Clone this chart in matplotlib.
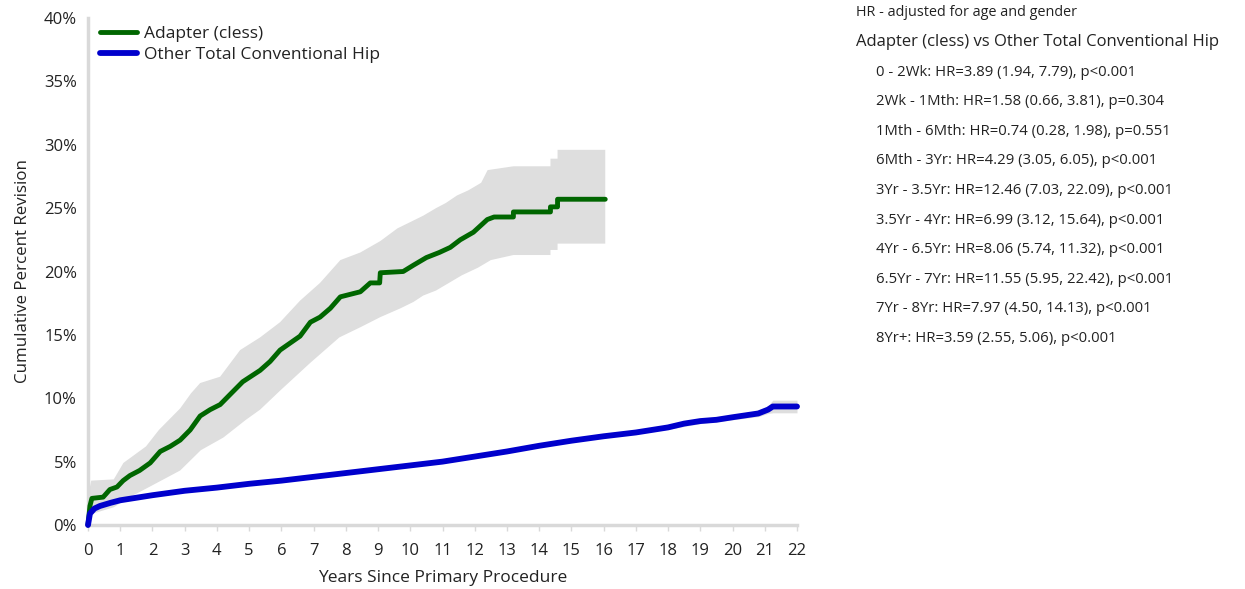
import matplotlib
matplotlib.use('Agg')
import matplotlib.pyplot as plt
import numpy as np

plt.rcParams['font.family'] = ['Open Sans', 'DejaVu Sans']

# Adapter (cless) cumulative percent revision
green_t   = [0, 0.06, 0.12, 0.47, 0.68, 0.9, 1.09, 1.3, 1.6, 1.93, 2.24, 2.55, 2.86, 3.17, 3.48, 3.79,
             4.1, 4.41, 4.8, 5.34, 5.65, 5.96, 6.58, 6.9, 7.2, 7.52, 7.83, 8.45, 8.76, 9.05, 9.07, 9.78,
             10.1, 10.5, 10.9, 11.24, 11.55, 11.96, 12.39, 12.6, 13.2, 13.2, 14.35, 14.35, 14.57, 14.57, 16.05]
green_pct = [0, 1.5, 2.1, 2.2, 2.8, 3.0, 3.5, 3.9, 4.3, 4.9, 5.8, 6.2, 6.7, 7.5, 8.6, 9.1,
             9.5, 10.3, 11.3, 12.2, 12.9, 13.8, 14.9, 16.0, 16.4, 17.1, 18.0, 18.4, 19.1, 19.1, 19.9, 20.0,
             20.5, 21.1, 21.5, 21.9, 22.5, 23.1, 24.1, 24.3, 24.3, 24.7, 24.7, 25.1, 25.1, 25.7, 25.7]

# 95% CI band for Adapter
green_up_t = [0, 0.06, 0.1, 0.8, 1.1, 1.8, 2.2, 2.86, 3.2, 3.48, 4.1, 4.72, 5.34, 5.96, 6.58, 7.2, 7.83,
              8.45, 9.07, 9.6, 10.0, 10.4, 10.8, 11.1, 11.45, 11.8, 12.2, 12.4, 13.2, 14.35, 14.35, 14.57,
              14.57, 16.05]
green_up   = [0, 3.0, 3.5, 3.6, 4.9, 6.2, 7.5, 9.2, 10.4, 11.2, 11.7, 13.8, 14.8, 16.0, 17.7, 19.1, 20.9,
              21.5, 22.4, 23.4, 23.9, 24.4, 25.0, 25.4, 26.0, 26.4, 27.0, 28.0, 28.3, 28.3, 28.9, 28.9,
              29.6, 29.6]
green_lo_t = [0, 0.15, 0.8, 1.3, 1.9, 2.86, 3.5, 4.2, 4.9, 5.34, 5.96, 6.9, 7.8, 8.45, 9.07, 9.7, 10.1,
              10.4, 10.8, 11.2, 11.6, 12.1, 12.5, 13.2, 14.35, 14.35, 14.57, 14.57, 16.05]
green_lo   = [0, 0.9, 1.4, 2.2, 3.0, 4.3, 5.9, 6.9, 8.3, 9.1, 10.6, 12.8, 14.8, 15.6, 16.4, 17.1, 17.6,
              18.1, 18.5, 19.1, 19.7, 20.3, 20.9, 21.3, 21.3, 21.7, 21.7, 22.2, 22.2]

# Other Total Conventional Hip
blue_t   = [0, 0.06, 0.2, 0.37, 0.7, 1, 2, 3, 4, 5, 6, 7, 8, 9, 10, 11, 12, 13, 14, 15, 16, 17, 18,
            18.5, 19, 19.5, 20, 20.8, 21.1, 21.25, 22]
blue_pct = [0, 0.9, 1.3, 1.5, 1.75, 1.95, 2.35, 2.7, 2.95, 3.25, 3.5, 3.8, 4.1, 4.4, 4.7, 5.0, 5.4,
            5.8, 6.25, 6.65, 7.0, 7.3, 7.7, 8.0, 8.2, 8.3, 8.5, 8.8, 9.1, 9.35, 9.35]
blue_ci_t  = [15, 18, 19, 20, 20.8, 21.1, 21.25, 22]
blue_ci_lo = [6.55, 7.55, 8.0, 8.3, 8.55, 8.8, 8.85, 8.85]
blue_ci_hi = [6.75, 7.85, 8.4, 8.7, 9.05, 9.4, 9.85, 9.85]

series_names = ['Adapter (cless)', 'Other Total Conventional Hip']
x_ticks = list(range(0, 23))
y_ticks = list(range(0, 41, 5))

hr_note  = 'HR - adjusted for age and gender'
hr_title = 'Adapter (cless) vs Other Total Conventional Hip'
hr_lines = [
    '0 - 2Wk: HR=3.89 (1.94, 7.79), p<0.001',
    '2Wk - 1Mth: HR=1.58 (0.66, 3.81), p=0.304',
    '1Mth - 6Mth: HR=0.74 (0.28, 1.98), p=0.551',
    '6Mth - 3Yr: HR=4.29 (3.05, 6.05), p<0.001',
    '3Yr - 3.5Yr: HR=12.46 (7.03, 22.09), p<0.001',
    '3.5Yr - 4Yr: HR=6.99 (3.12, 15.64), p<0.001',
    '4Yr - 6.5Yr: HR=8.06 (5.74, 11.32), p<0.001',
    '6.5Yr - 7Yr: HR=11.55 (5.95, 22.42), p<0.001',
    '7Yr - 8Yr: HR=7.97 (4.50, 14.13), p<0.001',
    '8Yr+: HR=3.59 (2.55, 5.06), p<0.001',
]

GREEN = '#006600'
BLUE = '#0000CC'
BAND = '#DEDEDE'
AXIS = '#D9D9D9'
TEXT = '#222222'
W, H = 1245, 589


def main():
    fig = plt.figure(figsize=(W / 100, H / 100), dpi=100)
    ax = fig.add_axes([88 / W, 1 - 525 / H, (797 - 88) / W, (525 - 18) / H])

    # CI bands
    ax.fill(np.r_[green_up_t, green_lo_t[::-1]], np.r_[green_up, green_lo[::-1]],
            color=BAND, lw=0, zorder=1)
    ax.fill_between(blue_ci_t, blue_ci_lo, blue_ci_hi, color=BAND, lw=0, zorder=1)

    ax.plot(green_t, green_pct, color=GREEN, lw=3.5, label=series_names[0],
            solid_capstyle='round', zorder=3, clip_on=False)
    ax.plot(blue_t, blue_pct, color=BLUE, lw=4.2, label=series_names[1],
            solid_capstyle='round', zorder=4, clip_on=False)

    ax.set_xlim(0, 22)
    ax.set_ylim(0, 40)
    ax.set_xticks(x_ticks)
    ax.set_yticks(y_ticks)
    ax.set_yticklabels([f'{v}%' for v in y_ticks])

    for side in ('top', 'right'):
        ax.spines[side].set_visible(False)
    for side in ('left', 'bottom'):
        ax.spines[side].set_color(AXIS)
        ax.spines[side].set_linewidth(2.5)
    ax.tick_params(axis='x', colors=AXIS, length=4, width=1, pad=9, labelsize=12, labelcolor=TEXT)
    ax.tick_params(axis='y', length=0, pad=8, labelsize=12, labelcolor=TEXT)

    ax.set_xlabel('Years Since Primary Procedure', fontsize=12.5, color=TEXT, labelpad=8)
    ax.set_ylabel('Cumulative Percent Revision', fontsize=12.2, color=TEXT, labelpad=9)

    leg = ax.legend(loc='upper left', bbox_to_anchor=(0.0, 1.008), frameon=False, fontsize=12.5,
                    handlelength=2.1, handletextpad=0.45, labelspacing=0.25, borderaxespad=0.3)
    for txt in leg.get_texts():
        txt.set_color(TEXT)

    # HR text block on the right
    fig.text(856 / W, 1 - 12 / H, hr_note, fontsize=10.4, color=TEXT, va='center', ha='left')
    fig.text(856 / W, 1 - 42 / H, hr_title, fontsize=12, color=TEXT, va='center', ha='left')
    for i, line in enumerate(hr_lines):
        fig.text(876 / W, 1 - (72 + i * 29.6) / H, line, fontsize=10.7, color=TEXT,
                 va='center', ha='left')

    fig.savefig('out.png', dpi=100)


if __name__ == '__main__':
    main()
